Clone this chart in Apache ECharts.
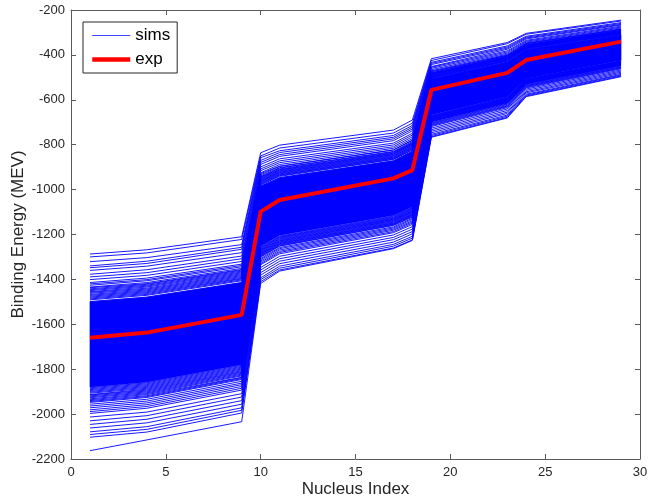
<!DOCTYPE html>
<html>
<head>
<meta charset="utf-8">
<script src="https://cdn.jsdelivr.net/npm/echarts@6/dist/echarts.min.js"></script>
<style>
  html, body { margin: 0; padding: 0; background: #fff; }
  #chart { width: 650px; height: 501px; }
</style>
</head>
<body>
<div id="chart"></div>
<script>
// Nucleus indices where the binding-energy curves change slope
const nucleusX = [1, 4, 9, 10, 11, 17, 18, 19, 23, 24, 29];

// Experimental binding energies (MeV)
const expEnergy = [-1660, -1637, -1558, -1098, -1046, -950, -913, -556, -480, -423, -341];

// Simulated binding energies (MeV), one row per simulation, at the indices above
const simsEnergy = [
  [-1287, -1268, -1210, -836, -802, -735, -690, -417, -345, -304, -245],
  [-1300, -1282, -1222, -850, -815, -748, -704, -425, -350, -308, -249],
  [-1321, -1303, -1245, -858, -827, -759, -714, -433, -360, -317, -256],
  [-1340, -1319, -1257, -870, -835, -767, -722, -438, -365, -321, -260],
  [-1348, -1329, -1266, -879, -844, -774, -730, -443, -370, -325, -264],
  [-1360, -1341, -1281, -888, -852, -782, -738, -452, -375, -329, -267],
  [-1377, -1357, -1296, -899, -863, -793, -749, -455, -382, -335, -272],
  [-1389, -1370, -1308, -908, -872, -801, -757, -460, -387, -339, -276],
  [-1401, -1382, -1320, -916, -880, -809, -765, -466, -392, -343, -280],
  [-1414, -1394, -1332, -925, -888, -816, -773, -471, -397, -347, -284],
  [-1420, -1401, -1338, -929, -895, -823, -779, -474, -401, -349, -286],
  [-1426, -1406, -1344, -934, -897, -824, -781, -476, -402, -351, -287],
  [-1434, -1414, -1351, -939, -902, -830, -786, -480, -405, -354, -290],
  [-1437, -1419, -1356, -943, -904, -832, -790, -481, -406, -356, -291],
  [-1442, -1422, -1359, -945, -908, -835, -792, -483, -408, -357, -292],
  [-1446, -1426, -1363, -948, -911, -838, -795, -485, -410, -358, -293],
  [-1450, -1430, -1367, -951, -913, -840, -797, -486, -412, -360, -295],
  [-1455, -1434, -1371, -954, -916, -843, -800, -488, -414, -361, -296],
  [-1458, -1439, -1375, -957, -919, -845, -802, -490, -415, -363, -297],
  [-1462, -1443, -1379, -960, -922, -848, -805, -492, -416, -364, -298],
  [-1467, -1447, -1383, -962, -924, -851, -808, -493, -418, -365, -300],
  [-1471, -1451, -1387, -965, -927, -854, -811, -495, -420, -366, -301],
  [-1475, -1455, -1391, -968, -930, -856, -813, -497, -422, -368, -302],
  [-1479, -1459, -1395, -971, -933, -859, -816, -499, -424, -369, -304],
  [-1483, -1463, -1398, -974, -935, -861, -818, -500, -425, -371, -305],
  [-1487, -1467, -1402, -977, -938, -864, -821, -502, -427, -372, -306],
  [-1491, -1471, -1406, -980, -941, -866, -824, -504, -428, -374, -307],
  [-1499, -1479, -1414, -985, -947, -872, -829, -507, -432, -377, -310],
  [-1883, -1861, -1783, -1255, -1208, -1118, -1080, -670, -588, -508, -427],
  [-1887, -1865, -1787, -1258, -1211, -1121, -1083, -672, -590, -509, -428],
  [-1891, -1869, -1791, -1261, -1213, -1124, -1085, -674, -591, -510, -429],
  [-1895, -1873, -1795, -1264, -1216, -1127, -1088, -676, -593, -511, -430],
  [-1899, -1877, -1799, -1267, -1219, -1129, -1091, -677, -595, -513, -432],
  [-1903, -1881, -1803, -1270, -1222, -1132, -1094, -679, -597, -514, -433],
  [-1907, -1885, -1807, -1272, -1225, -1134, -1096, -681, -598, -516, -434],
  [-1913, -1889, -1811, -1275, -1228, -1137, -1099, -683, -600, -517, -435],
  [-1915, -1893, -1814, -1278, -1230, -1139, -1101, -684, -601, -519, -437],
  [-1919, -1897, -1818, -1281, -1233, -1142, -1104, -686, -603, -520, -438],
  [-1923, -1901, -1822, -1284, -1236, -1145, -1107, -688, -605, -522, -439],
  [-1927, -1905, -1826, -1287, -1239, -1148, -1110, -690, -607, -523, -440],
  [-1932, -1909, -1830, -1289, -1241, -1150, -1112, -691, -608, -524, -442],
  [-1936, -1913, -1836, -1292, -1244, -1153, -1115, -693, -610, -525, -443],
  [-1940, -1918, -1838, -1295, -1247, -1155, -1117, -695, -611, -527, -444],
  [-1944, -1922, -1842, -1298, -1250, -1158, -1120, -697, -613, -528, -445],
  [-1948, -1926, -1846, -1301, -1252, -1160, -1123, -698, -615, -530, -447],
  [-1956, -1934, -1854, -1307, -1258, -1166, -1128, -702, -618, -533, -449],
  [-1964, -1942, -1862, -1312, -1263, -1171, -1133, -705, -621, -536, -452],
  [-1972, -1950, -1869, -1318, -1269, -1176, -1139, -708, -625, -538, -454],
  [-1981, -1958, -1877, -1324, -1275, -1181, -1144, -712, -628, -541, -457],
  [-1989, -1966, -1885, -1330, -1280, -1187, -1149, -715, -631, -544, -459],
  [-1997, -1974, -1893, -1335, -1286, -1192, -1155, -719, -635, -547, -462],
  [-2013, -1991, -1909, -1347, -1297, -1202, -1165, -726, -641, -552, -467],
  [-2030, -2007, -1924, -1358, -1308, -1213, -1176, -733, -648, -558, -472],
  [-2046, -2023, -1940, -1370, -1319, -1223, -1187, -740, -655, -564, -477],
  [-2062, -2039, -1956, -1381, -1330, -1234, -1197, -747, -661, -569, -482],
  [-2079, -2056, -1972, -1393, -1341, -1244, -1208, -754, -668, -575, -487],
  [-2091, -2068, -1983, -1401, -1350, -1252, -1216, -759, -673, -579, -490],
  [-2103, -2080, -1995, -1410, -1358, -1260, -1224, -764, -678, -583, -494],
  [-2163, -2115, -2034, -1418, -1363, -1263, -1226, -767, -681, -586, -497]
];

// Upper and lower bounds of the densely packed middle of the simulation ensemble
const simsCoreUpper = [-1499, -1479, -1414, -985, -947, -872, -829, -507, -432, -377, -310];
const simsCoreLower = [-1880, -1858, -1780, -1252, -1205, -1115, -1078, -668, -586, -506, -425];

// Axis ticks
const xTicks = { min: 0, max: 30, step: 5 };
const yTicks = { min: -2200, max: -200, step: 200 };

const FONT = '"Liberation Sans", Arial, Helvetica, sans-serif';
const AXIS_COLOR = '#5a5a5a';
const LABEL_COLOR = '#262626';
const SIM_BLUE = '#0000ff';
const EXP_RED = '#ff0000';

const chart = echarts.init(document.getElementById('chart'), null, { renderer: 'canvas' });

const toPairs = (vals) => nucleusX.map((x, i) => [x, vals[i]]);

const series = [];

// Solid shading for the dense core of the ensemble
series.push({
  name: 'sims core',
  type: 'custom',
  silent: true,
  z: 1,
  data: [[nucleusX[0], simsCoreUpper[0]]],
  renderItem: function (params, api) {
    const pts = [];
    for (let i = 0; i < nucleusX.length; i++) {
      pts.push(api.coord([nucleusX[i], simsCoreUpper[i]]));
    }
    for (let i = nucleusX.length - 1; i >= 0; i--) {
      pts.push(api.coord([nucleusX[i], simsCoreLower[i]]));
    }
    return {
      type: 'polygon',
      shape: { points: pts },
      style: { fill: SIM_BLUE, stroke: SIM_BLUE, lineWidth: 0.6 }
    };
  }
});

// Individual simulation curves
simsEnergy.forEach(function (row) {
  series.push({
    name: 'sims',
    type: 'line',
    data: toPairs(row),
    symbol: 'none',
    silent: true,
    z: 2,
    color: SIM_BLUE,
    lineStyle: { color: SIM_BLUE, width: 0.9 }
  });
});

// Experimental curve
series.push({
  name: 'exp',
  type: 'line',
  data: toPairs(expEnergy),
  symbol: 'none',
  silent: true,
  z: 5,
  color: EXP_RED,
  lineStyle: { color: EXP_RED, width: 4 }
});

const baseX = {
  type: 'value',
  min: xTicks.min,
  max: xTicks.max,
  interval: xTicks.step,
  splitLine: { show: false },
  axisLine: { show: true, onZero: false, lineStyle: { color: AXIS_COLOR, width: 1 } },
  axisTick: { show: true, inside: true, length: 5, lineStyle: { color: AXIS_COLOR } }
};
const baseY = {
  type: 'value',
  min: yTicks.min,
  max: yTicks.max,
  interval: yTicks.step,
  splitLine: { show: false },
  axisLine: { show: true, onZero: false, lineStyle: { color: AXIS_COLOR, width: 1 } },
  axisTick: { show: true, inside: true, length: 5, lineStyle: { color: AXIS_COLOR } }
};

chart.setOption({
  animation: false,
  backgroundColor: '#ffffff',
  textStyle: { fontFamily: FONT },
  grid: { left: 71, right: 10, top: 10, bottom: 42, containLabel: false, outerBoundsMode: 'none' },
  legend: {
    data: [
      { name: 'sims', lineStyle: { color: '#4040ff', width: 1 } },
      { name: 'exp', lineStyle: { color: EXP_RED, width: 4.5 } }
    ],
    orient: 'vertical',
    left: 83,
    top: 22,
    padding: [4, 7, 4, 7],
    itemGap: 5,
    itemWidth: 38,
    itemHeight: 14,
    backgroundColor: '#ffffff',
    borderColor: '#262626',
    borderWidth: 1,
    borderRadius: 0,
    selectedMode: false,
    itemStyle: { opacity: 0 },
    textStyle: { fontFamily: FONT, fontSize: 17, color: '#000', lineHeight: 19 }
  },
  xAxis: [
    Object.assign({}, baseX, {
      position: 'bottom',
      name: 'Nucleus Index',
      nameLocation: 'middle',
      nameGap: 22,
      nameMoveOverlap: false,
      nameTextStyle: { fontFamily: FONT, fontSize: 17, color: LABEL_COLOR },
      axisLabel: { fontFamily: FONT, fontSize: 13, color: LABEL_COLOR, margin: 7 }
    }),
    Object.assign({}, baseX, { position: 'top', axisLabel: { show: false } })
  ],
  yAxis: [
    Object.assign({}, baseY, {
      position: 'left',
      name: 'Binding Energy (MEV)',
      nameLocation: 'middle',
      nameGap: 44,
      nameMoveOverlap: false,
      nameRotate: 90,
      nameTextStyle: { fontFamily: FONT, fontSize: 17, color: LABEL_COLOR },
      axisLabel: {
        fontFamily: FONT, fontSize: 13, color: LABEL_COLOR, margin: 6,
        formatter: function (v) { return String(v); }
      }
    }),
    Object.assign({}, baseY, { position: 'right', axisLabel: { show: false } })
  ],
  series: series
});
</script>
</body>
</html>
